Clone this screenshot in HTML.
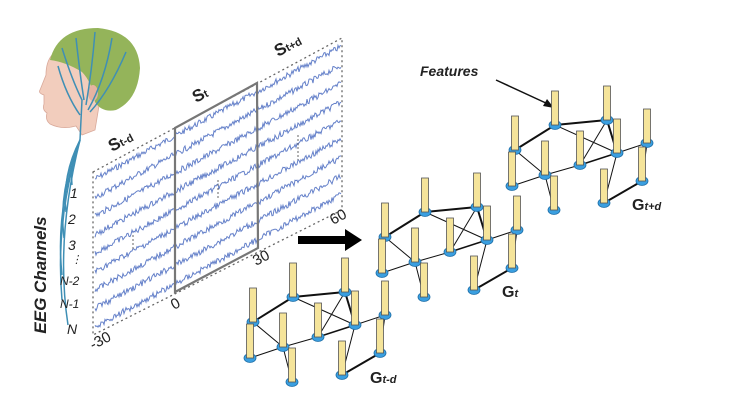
<!DOCTYPE html>
<html><head><meta charset="utf-8"><style>
html,body{margin:0;padding:0;background:#fff;}
svg{display:block}
text{font-family:"Liberation Sans",sans-serif;}
</style></head><body>
<svg id="s" width="737" height="409" viewBox="0 0 737 409" xmlns="http://www.w3.org/2000/svg">
<!-- head -->
<path d="M52,55 Q46,62 46,75 L40,90 Q38,93 44,95 L44,104 Q42,110 47,113 Q45,120 50,124 Q62,130 76,126 L82,135 L95,130 L100,100 Q100,70 80,55 Z" fill="#f2cdbd" stroke="#d9a99a" stroke-width="0.8"/>
<path d="M50,60 Q58,28 98,28 Q138,32 140,68 Q138,100 116,110 Q102,113 95,102 Q92,82 82,72 Q66,62 50,60 Z" fill="#94b45a"/>
<ellipse cx="93" cy="93" rx="5" ry="8" fill="#e5b3a1"/>
<g stroke="#3f8fb5" stroke-width="1.5" fill="none">
<path d="M62,48 Q72,80 82,100 L80,140"/><path d="M76,38 Q80,75 84,100"/><path d="M95,32 Q92,70 86,105"/>
<path d="M112,38 Q105,80 88,110"/><path d="M126,52 Q110,90 90,112"/><path d="M58,66 Q66,95 80,115"/>
<path d="M80,140 Q70,165 72,185"/><path d="M80,140 Q62,175 66,212"/><path d="M80,140 Q58,190 64,238"/>
<path d="M80,140 Q55,210 62,275"/><path d="M80,140 Q55,220 62,300"/><path d="M80,140 Q55,240 68,325"/>
</g>
<!-- EEG panel -->
<g id="traces" stroke="#4a6bc0" stroke-width="1" fill="none" opacity="0.85"></g>
<polygon points="93,172 342,38 342,210 93,335" fill="none" stroke="#666" stroke-width="1.3" stroke-dasharray="2,3"/>
<line x1="133" y1="235" x2="133" y2="250" stroke="#666" stroke-dasharray="2,2"/>
<line x1="218" y1="180" x2="218" y2="200" stroke="#666" stroke-dasharray="2,2"/>
<line x1="298" y1="135" x2="298" y2="160" stroke="#666" stroke-dasharray="2,2"/>
<polygon points="175,128 257,83 258,248 175,292" fill="none" stroke="#777" stroke-width="2.2"/>
<g font-size="17" font-weight="bold" fill="#222">
<text x="112" y="152" transform="rotate(-28 112 152)">S<tspan font-size="11">t-d</tspan></text>
<text x="196" y="103" transform="rotate(-28 196 103)">S<tspan font-size="11">t</tspan></text>
<text x="278" y="57" transform="rotate(-28 278 57)">S<tspan font-size="11">t+d</tspan></text>
</g>
<g font-size="15" fill="#222">
<text x="93" y="350" transform="rotate(-28 93 350)">-30</text>
<text x="174" y="310" transform="rotate(-28 174 310)">0</text>
<text x="256" y="266" transform="rotate(-28 256 266)">30</text>
<text x="333" y="225" transform="rotate(-28 333 225)">60</text>
</g>
<g font-size="14" font-style="italic" fill="#222">
<text x="70" y="198">1</text><text x="68" y="224">2</text><text x="68" y="250">3</text>
<text x="71" y="263" font-size="11">⋮</text>
<text x="60" y="285" font-size="12">N-2</text><text x="60" y="308" font-size="12">N-1</text><text x="67" y="334">N</text>
</g>
<text x="46" y="275" font-size="17" font-weight="bold" font-style="italic" fill="#222" text-anchor="middle" transform="rotate(-90 46 275)">EEG Channels</text>
<!-- big arrow -->
<polygon points="298,236 345,236 345,229 362,240 345,251 345,244 298,244" fill="#000"/>
<!-- features -->
<text x="420" y="76" font-size="14" font-weight="bold" font-style="italic" fill="#222">Features</text>
<line x1="496" y1="80" x2="548" y2="104" stroke="#111" stroke-width="1.5"/>
<polygon points="554,108 543,106 547,99" fill="#111"/>
<g id="graphs"></g>
<g font-weight="bold" fill="#222" font-size="16">
<text x="370" y="383">G<tspan font-size="11" font-style="italic">t-d</tspan></text>
<text x="502" y="297">G<tspan font-size="11" font-style="italic">t</tspan></text>
<text x="632" y="210">G<tspan font-size="11" font-style="italic">t+d</tspan></text>
</g>
</svg>
<script>
var NS="http://www.w3.org/2000/svg";
var tr=document.getElementById('traces');
var seed=7;function r(){seed=(seed*9301+49297)%233280;return seed/233280;}
for(var i=0;i<9;i++){var y0=180+i*18.5;var d="";for(var x=95;x<=341;x+=1){var y=y0-(x-93)*0.538+(r()-0.5)*6;d+=(x==95?"M":"L")+x.toFixed(1)+","+y.toFixed(1);}
var p=document.createElementNS(NS,"path");p.setAttribute("d",d);tr.appendChild(p);}
var N={A:[253,322],B:[293,297],C:[345,292],D:[355,325],E:[318,337],F:[283,347],G:[250,358],H:[292,382],I:[385,315],J:[380,353],K:[342,375]};
var E=[["A","B",2],["B","C",2],["C","D",2],["A","F",1],["F","E",1],["E","D",1.5],["B","D",1],["C","E",1],["G","F",1],["F","H",1],["D","I",1],["I","J",1],["J","K",2],["D","K",1],["A","G",1]];
var offs=[[0,0],[132,-85],[262,-172]];var g=document.getElementById('graphs');
function el(t,a){var e=document.createElementNS(NS,t);for(var k in a)e.setAttribute(k,a[k]);g.appendChild(e);return e;}
offs.forEach(function(o){
E.forEach(function(e){var a=N[e[0]],b=N[e[1]];el("line",{x1:a[0]+o[0],y1:a[1]+o[1],x2:b[0]+o[0],y2:b[1]+o[1],stroke:"#111","stroke-width":e[2]});});
Object.keys(N).sort(function(p,q){return N[p][1]-N[q][1];}).forEach(function(k){var n=N[k];var x=n[0]+o[0],y=n[1]+o[1];
el("ellipse",{cx:x,cy:y,rx:6,ry:4.5,fill:"#3a9fe0",stroke:"#1f6fa8","stroke-width":0.8});
el("rect",{x:x-3.5,y:y-34,width:7,height:34,fill:"#f5e49a",stroke:"#555","stroke-width":0.8});});
});
</script>
</body></html>
